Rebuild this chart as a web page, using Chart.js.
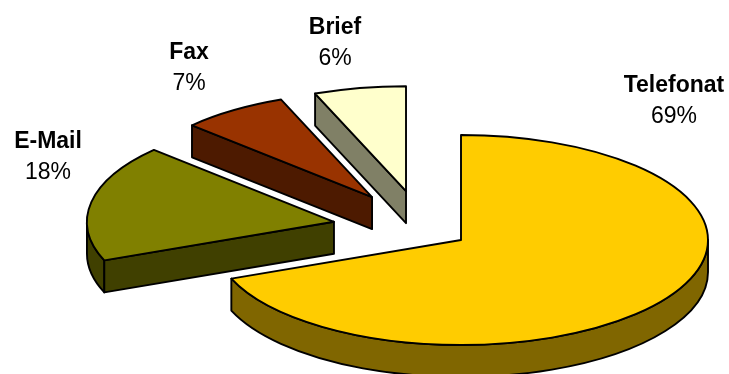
<!DOCTYPE html>
<html>
<head>
<meta charset="utf-8">
<script src="https://cdn.jsdelivr.net/npm/chart.js@4.4.4/dist/chart.umd.min.js"></script>
<style>
  html, body { margin: 0; padding: 0; background: #fff; }
</style>
</head>
<body>
<canvas id="chart" width="729" height="374"></canvas>
<script>
const categories = ['Telefonat', 'E-Mail', 'Fax', 'Brief'];
const shares = [69, 18, 7, 6];
const sliceColors = ['#FFCC00', '#808000', '#993300', '#FFFFCC'];

// how far each slice is pulled out of the pie, as a fraction of the radius
const explode = [0.186, 0.367, 0.367, 0.367];
// label anchors (centre x, baseline y of the name); the percentage goes one line below
const labelPos = [[674, 92], [48, 148], [189, 59], [335, 34]];

const TILT = 0.425;  // vertical squash of the disc
const DEPTH = 32;    // disc thickness, px
const LINE = 1.9;
const FONT = '"Liberation Sans", Arial, sans-serif';

function darken(hex, f) {
  const n = parseInt(hex.slice(1), 16);
  const c = [(n >> 16) & 255, (n >> 8) & 255, n & 255].map(v => Math.round(v * f));
  return `rgb(${c[0]}, ${c[1]}, ${c[2]})`;
}

// elliptical arc appended to the current path
function ellipseArc(ctx, cx, cy, r, a, b, ccw) {
  ctx.save();
  ctx.translate(cx, cy);
  ctx.scale(1, TILT);
  ctx.arc(0, 0, r, a, b, ccw);
  ctx.restore();
}

function rimPoint(cx, cy, r, a) {
  return [cx + Math.cos(a) * r, cy + Math.sin(a) * r * TILT];
}

// Draws the pie as a tilted, exploded disc using the arcs Chart.js laid out.
const pie3d = {
  id: 'pie3d',
  beforeDatasetsDraw(chart) {
    const ctx = chart.ctx;
    const arcs = chart.getDatasetMeta(0).data;
    const slices = arcs.map((arc, i) => {
      const p = arc.getProps(['x', 'y', 'startAngle', 'endAngle', 'outerRadius'], true);
      const mid = (p.startAngle + p.endAngle) / 2;
      const d = explode[i] * p.outerRadius;
      return {
        arc, i, a0: p.startAngle, a1: p.endAngle, r: p.outerRadius, ox: p.x, oy: p.y,
        cx: p.x + Math.cos(mid) * d,
        cy: p.y + Math.sin(mid) * d * TILT
      };
    });

    ctx.save();
    ctx.lineWidth = LINE;
    ctx.lineJoin = 'round';
    ctx.strokeStyle = '#000';

    // sides first
    slices.forEach(s => {
      ctx.fillStyle = darken(sliceColors[s.i], 0.5);
      // outer rim, only the part on the near half of the disc
      for (let k = -1; k <= 2; k++) {
        const lo = Math.max(s.a0, 2 * Math.PI * k);
        const hi = Math.min(s.a1, 2 * Math.PI * k + Math.PI);
        if (hi <= lo) continue;
        ctx.beginPath();
        ellipseArc(ctx, s.cx, s.cy, s.r, lo, hi, false);
        ellipseArc(ctx, s.cx, s.cy + DEPTH, s.r, hi, lo, true);
        ctx.closePath();
        ctx.fill();
        ctx.stroke();
      }
      // cut faces that turn towards the viewer
      [[s.a0, Math.cos(s.a0) < -1e-6], [s.a1, Math.cos(s.a1) > 1e-6]].forEach(([a, show]) => {
        if (!show) return;
        const [px, py] = rimPoint(s.cx, s.cy, s.r, a);
        ctx.beginPath();
        ctx.moveTo(s.cx, s.cy);
        ctx.lineTo(px, py);
        ctx.lineTo(px, py + DEPTH);
        ctx.lineTo(s.cx, s.cy + DEPTH);
        ctx.closePath();
        ctx.fill();
        ctx.stroke();
      });
    });

    // top faces: the library's own arc fill, squashed and shifted
    slices.forEach(s => {
      ctx.save();
      ctx.translate(s.cx, s.cy);
      ctx.scale(1, TILT);
      ctx.translate(-s.ox, -s.oy);
      s.arc.draw(ctx);
      ctx.restore();

      ctx.beginPath();
      ctx.moveTo(s.cx, s.cy);
      ellipseArc(ctx, s.cx, s.cy, s.r, s.a0, s.a1, false);
      ctx.closePath();
      ctx.stroke();
    });

    ctx.restore();
    return false;
  },
  afterDraw(chart) {
    const ctx = chart.ctx;
    const total = shares.reduce((a, b) => a + b, 0);
    ctx.save();
    ctx.fillStyle = '#000';
    ctx.textAlign = 'center';
    ctx.textBaseline = 'alphabetic';
    categories.forEach((name, i) => {
      const [x, y] = labelPos[i];
      ctx.font = 'bold 23px ' + FONT;
      ctx.fillText(name, x, y);
      ctx.font = '23px ' + FONT;
      ctx.fillText(Math.round(shares[i] / total * 100) + '%', x, y + 31);
    });
    ctx.restore();
  }
};

new Chart(document.getElementById('chart'), {
  type: 'pie',
  data: {
    labels: categories,
    datasets: [{
      data: shares,
      backgroundColor: sliceColors,
      borderWidth: 0,
      hoverOffset: 0,
      radius: 247
    }]
  },
  options: {
    responsive: false,
    animation: false,
    events: [],
    rotation: 0,
    layout: { padding: { left: 117, top: 84, right: 0, bottom: 0 } },
    plugins: { legend: { display: false }, tooltip: { enabled: false } }
  },
  plugins: [pie3d]
});
</script>
</body>
</html>
